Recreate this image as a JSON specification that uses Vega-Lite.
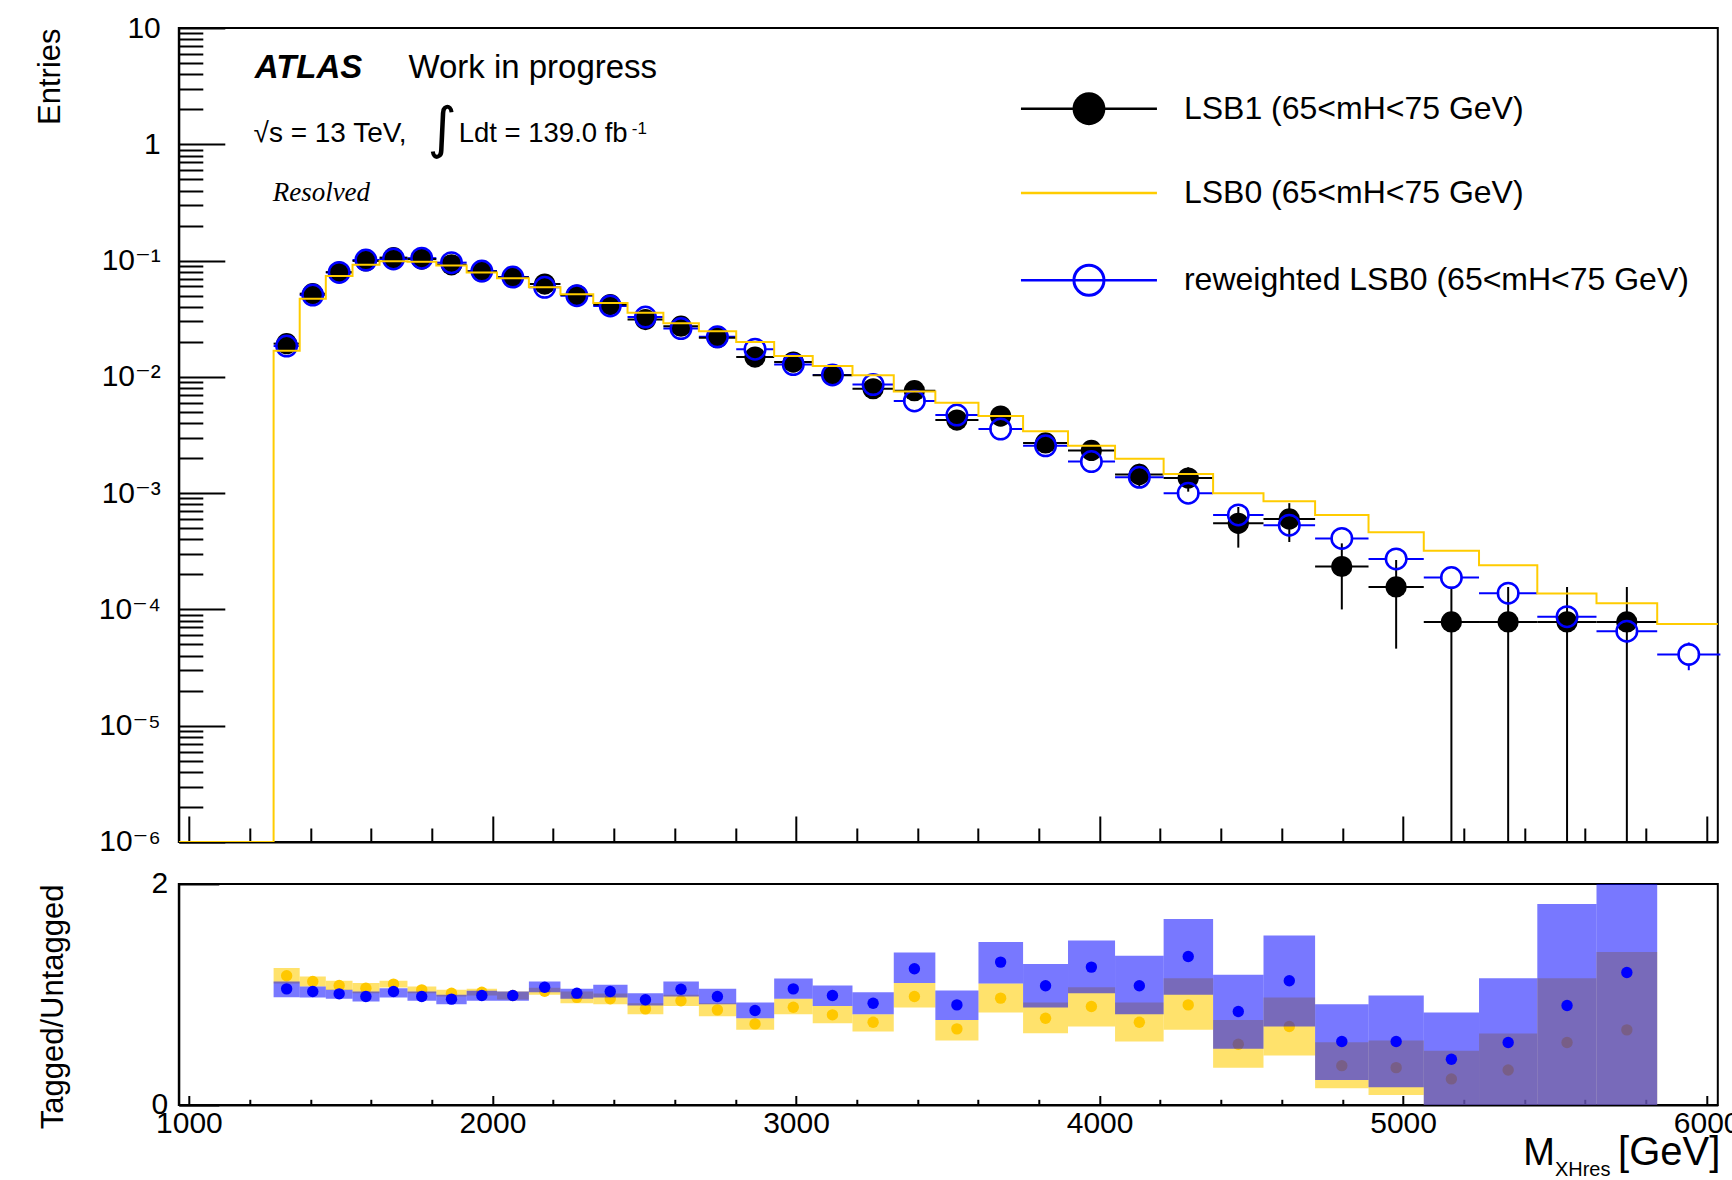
{
  "$schema": "https://vega.github.io/schema/vega-lite/v6.json",
  "background": "white",
  "padding": {"left": 33.8, "top": 12, "right": 0, "bottom": 0},
  "bounds": "flush",
  "spacing": 42,
  "config": {
    "view": {"stroke": "black", "strokeWidth": 2},
    "axis": {"grid": false, "domainColor": "black", "domainWidth": 2, "tickColor": "black", "tickWidth": 2, "labelFont": "Liberation Sans, DejaVu Sans", "labelFontSize": 30, "labelColor": "black", "titleFont": "Liberation Sans", "titleFontSize": 31, "titleColor": "black", "titleFontWeight": "normal", "labelFlush": false, "labelOverlap": false},
    "text": {"font": "Liberation Sans", "color": "black"}
  },
  "datasets": {
    "bins": [
      {"lo":1279,"hi":1365,"c":1322,"b":0.0193,"blo":0.0181,"bhi":0.0205,"w":0.0184,"wlo":0.0180,"whi":0.0188,"ry":1.169,"rylo":1.099,"ryhi":1.239,"rb":1.051,"rblo":0.976,"rbhi":1.118},
      {"lo":1365,"hi":1451,"c":1408,"b":0.0519,"blo":0.0499,"bhi":0.0539,"w":0.0505,"wlo":0.0495,"whi":0.0515,"ry":1.118,"rylo":1.073,"ryhi":1.163,"rb":1.027,"rblo":0.973,"rbhi":1.072},
      {"lo":1451,"hi":1539,"c":1495,"b":0.0795,"blo":0.0770,"bhi":0.0820,"w":0.0790,"wlo":0.0774,"whi":0.0806,"ry":1.082,"rylo":1.040,"ryhi":1.124,"rb":1.006,"rblo":0.961,"rbhi":1.042},
      {"lo":1539,"hi":1628,"c":1583,"b":0.0993,"blo":0.0965,"bhi":0.1021,"w":0.1011,"wlo":0.0991,"whi":0.1031,"ry":1.057,"rylo":1.011,"ryhi":1.103,"rb":0.982,"rblo":0.937,"rbhi":1.027},
      {"lo":1628,"hi":1720,"c":1674,"b":0.106,"blo":0.1031,"bhi":0.1089,"w":0.1032,"wlo":0.1011,"whi":0.1053,"ry":1.094,"rylo":1.064,"ryhi":1.124,"rb":1.027,"rblo":0.973,"rbhi":1.057},
      {"lo":1720,"hi":1815,"c":1767,"b":0.103,"blo":0.1002,"bhi":0.1058,"w":0.1049,"wlo":0.1028,"whi":0.1070,"ry":1.042,"rylo":1.011,"ryhi":1.073,"rb":0.982,"rblo":0.943,"rbhi":1.027},
      {"lo":1815,"hi":1915,"c":1865,"b":0.092,"blo":0.0893,"bhi":0.0947,"w":0.0960,"wlo":0.0941,"whi":0.0979,"ry":1.012,"rylo":0.982,"ryhi":1.042,"rb":0.958,"rblo":0.912,"rbhi":0.997},
      {"lo":1915,"hi":2015,"c":1965,"b":0.0805,"blo":0.0780,"bhi":0.0830,"w":0.0812,"wlo":0.0796,"whi":0.0828,"ry":1.021,"rylo":0.991,"ryhi":1.051,"rb":0.991,"rblo":0.943,"rbhi":1.033},
      {"lo":2015,"hi":2120,"c":2067,"b":0.0716,"blo":0.0692,"bhi":0.0740,"w":0.0722,"wlo":0.0708,"whi":0.0736,"ry":0.991,"rylo":0.955,"ryhi":1.027,"rb":0.991,"rblo":0.943,"rbhi":1.027},
      {"lo":2120,"hi":2224,"c":2172,"b":0.0628,"blo":0.0606,"bhi":0.0650,"w":0.0589,"wlo":0.0577,"whi":0.0601,"ry":1.030,"rylo":0.997,"ryhi":1.062,"rb":1.066,"rblo":1.021,"rbhi":1.118},
      {"lo":2224,"hi":2332,"c":2278,"b":0.0505,"blo":0.0485,"bhi":0.0525,"w":0.0499,"wlo":0.0484,"whi":0.0514,"ry":0.974,"rylo":0.921,"ryhi":1.027,"rb":1.012,"rblo":0.961,"rbhi":1.051},
      {"lo":2332,"hi":2445,"c":2388,"b":0.0418,"blo":0.0400,"bhi":0.0436,"w":0.0407,"wlo":0.0395,"whi":0.0419,"ry":0.961,"rylo":0.912,"ryhi":1.010,"rb":1.027,"rblo":0.973,"rbhi":1.088},
      {"lo":2445,"hi":2563,"c":2504,"b":0.0311,"blo":0.0295,"bhi":0.0327,"w":0.0327,"wlo":0.0317,"whi":0.0337,"ry":0.870,"rylo":0.822,"ryhi":0.921,"rb":0.952,"rblo":0.900,"rbhi":1.012},
      {"lo":2563,"hi":2680,"c":2621,"b":0.0273,"blo":0.0258,"bhi":0.0288,"w":0.0260,"wlo":0.0252,"whi":0.0268,"ry":0.943,"rylo":0.897,"ryhi":0.997,"rb":1.048,"rblo":0.982,"rbhi":1.118},
      {"lo":2680,"hi":2803,"c":2741,"b":0.0217,"blo":0.0204,"bhi":0.0230,"w":0.0221,"wlo":0.0212,"whi":0.0230,"ry":0.861,"rylo":0.804,"ryhi":0.921,"rb":0.982,"rblo":0.912,"rbhi":1.051},
      {"lo":2803,"hi":2928,"c":2865,"b":0.0148,"blo":0.0137,"bhi":0.0159,"w":0.0173,"wlo":0.0166,"whi":0.0180,"ry":0.734,"rylo":0.680,"ryhi":0.785,"rb":0.855,"rblo":0.785,"rbhi":0.927},
      {"lo":2928,"hi":3055,"c":2991,"b":0.0134,"blo":0.0124,"bhi":0.0144,"w":0.01275,"wlo":0.0122,"whi":0.0133,"ry":0.885,"rylo":0.822,"ryhi":0.961,"rb":1.051,"rblo":0.961,"rbhi":1.145},
      {"lo":3055,"hi":3186,"c":3120,"b":0.0103,"blo":0.0094,"bhi":0.0112,"w":0.0104,"wlo":0.0099,"whi":0.0109,"ry":0.816,"rylo":0.740,"ryhi":0.897,"rb":0.991,"rblo":0.897,"rbhi":1.082},
      {"lo":3186,"hi":3322,"c":3254,"b":0.0079,"blo":0.00712,"bhi":0.00868,"w":0.00858,"wlo":0.0081,"whi":0.0091,"ry":0.749,"rylo":0.665,"ryhi":0.822,"rb":0.921,"rblo":0.822,"rbhi":1.021},
      {"lo":3322,"hi":3459,"c":3390,"b":0.0076,"blo":0.00684,"bhi":0.00836,"w":0.00621,"wlo":0.0058,"whi":0.0066,"ry":0.982,"rylo":0.882,"ryhi":1.103,"rb":1.233,"rblo":1.103,"rbhi":1.381},
      {"lo":3459,"hi":3601,"c":3530,"b":0.00425,"blo":0.00368,"bhi":0.00482,"w":0.00469,"wlo":0.0044,"whi":0.0050,"ry":0.689,"rylo":0.583,"ryhi":0.770,"rb":0.906,"rblo":0.770,"rbhi":1.036},
      {"lo":3601,"hi":3748,"c":3674,"b":0.0046,"blo":0.0040,"bhi":0.0052,"w":0.00356,"wlo":0.0033,"whi":0.0038,"ry":0.967,"rylo":0.837,"ryhi":1.100,"rb":1.293,"rblo":1.100,"rbhi":1.474},
      {"lo":3748,"hi":3896,"c":3822,"b":0.0027,"blo":0.00224,"bhi":0.00316,"w":0.00255,"wlo":0.00234,"whi":0.00276,"ry":0.785,"rylo":0.650,"ryhi":0.927,"rb":1.079,"rblo":0.882,"rbhi":1.275},
      {"lo":3896,"hi":4051,"c":3973,"b":0.00233,"blo":0.0019,"bhi":0.00276,"w":0.00187,"wlo":0.0017,"whi":0.00204,"ry":0.891,"rylo":0.710,"ryhi":1.066,"rb":1.248,"rblo":1.012,"rbhi":1.489},
      {"lo":4051,"hi":4211,"c":4131,"b":0.00145,"blo":0.00111,"bhi":0.00179,"w":0.00137,"wlo":0.00124,"whi":0.0015,"ry":0.749,"rylo":0.574,"ryhi":0.927,"rb":1.079,"rblo":0.822,"rbhi":1.350},
      {"lo":4211,"hi":4374,"c":4292,"b":0.00135,"blo":0.00103,"bhi":0.00167,"w":0.0010,"wlo":0.0009,"whi":0.0011,"ry":0.906,"rylo":0.680,"ryhi":1.148,"rb":1.344,"rblo":0.997,"rbhi":1.683},
      {"lo":4374,"hi":4540,"c":4457,"b":0.00055,"blo":0.00034,"bhi":0.00076,"w":0.00065,"wlo":0.00057,"whi":0.00073,"ry":0.550,"rylo":0.338,"ryhi":0.770,"rb":0.846,"rblo":0.508,"rbhi":1.178},
      {"lo":4540,"hi":4710,"c":4625,"b":0.0006,"blo":0.00038,"bhi":0.00082,"w":0.00053,"wlo":0.00046,"whi":0.0006,"ry":0.710,"rylo":0.447,"ryhi":0.973,"rb":1.124,"rblo":0.710,"rbhi":1.535},
      {"lo":4710,"hi":4886,"c":4798,"b":0.000234,"blo":0.0001,"bhi":0.00037,"w":0.000408,"wlo":0.00035,"whi":0.000466,"ry":0.356,"rylo":0.151,"ryhi":0.568,"rb":0.574,"rblo":0.227,"rbhi":0.912},
      {"lo":4886,"hi":5068,"c":4977,"b":0.000156,"blo":0.000046,"bhi":0.000266,"w":0.000272,"wlo":0.00023,"whi":0.000314,"ry":0.338,"rylo":0.091,"ryhi":0.583,"rb":0.574,"rblo":0.160,"rbhi":0.991},
      {"lo":5068,"hi":5250,"c":5159,"b":0.000078,"blo":0.000001,"bhi":0.000156,"w":0.000188,"wlo":0.000155,"whi":0.000221,"ry":0.236,"rylo":0,"ryhi":0.49,"rb":0.414,"rblo":0,"rbhi":0.837},
      {"lo":5250,"hi":5442,"c":5346,"b":0.000078,"blo":0.000001,"bhi":0.000156,"w":0.000138,"wlo":0.000113,"whi":0.000163,"ry":0.317,"rylo":0,"ryhi":0.647,"rb":0.565,"rblo":0,"rbhi":1.148},
      {"lo":5442,"hi":5637,"c":5540,"b":0.000078,"blo":0.000001,"bhi":0.000156,"w":0.0000867,"wlo":0.000069,"whi":0.000104,"ry":0.565,"rylo":0,"ryhi":1.148,"rb":0.900,"rblo":0,"rbhi":1.819},
      {"lo":5637,"hi":5837,"c":5737,"b":0.000078,"blo":0.000001,"bhi":0.000156,"w":0.000065,"wlo":0.000051,"whi":0.000079,"ry":0.680,"rylo":0,"ryhi":1.384,"rb":1.199,"rblo":0,"rbhi":2.4},
      {"lo":5837,"hi":6045,"c":5941,"w":0.000041,"wlo":0.00003,"whi":0.000052}
    ],
    "hist": [
      {"x":966.7,"y":0.000001},{"x":1279,"y":0.0168},{"x":1365,"y":0.047},{"x":1451,"y":0.0738},{"x":1539,"y":0.092},{"x":1628,"y":0.0985},{"x":1720,"y":0.0975},{"x":1815,"y":0.0905},{"x":1915,"y":0.0789},{"x":2015,"y":0.0705},{"x":2120,"y":0.059},{"x":2224,"y":0.0513},{"x":2332,"y":0.0432},{"x":2445,"y":0.0355},{"x":2563,"y":0.0289},{"x":2680,"y":0.0247},{"x":2803,"y":0.0199},{"x":2928,"y":0.0151},{"x":3055,"y":0.0124},{"x":3186,"y":0.0103},{"x":3322,"y":0.0075},{"x":3459,"y":0.0060},{"x":3601,"y":0.0046},{"x":3748,"y":0.0034},{"x":3896,"y":0.00255},{"x":4051,"y":0.00198},{"x":4211,"y":0.00146},{"x":4374,"y":0.00100},{"x":4540,"y":0.00085},{"x":4710,"y":0.00065},{"x":4886,"y":0.00046},{"x":5068,"y":0.00032},{"x":5250,"y":0.00024},{"x":5442,"y":0.000137},{"x":5637,"y":0.000113},{"x":5837,"y":0.000075},{"x":6045,"y":0.000075}
    ],
    "legend": [
      {"label": "LSB1 (65<mH<75 GeV)", "ly": 2.021},
      {"label": "LSB0 (65<mH<75 GeV)", "ly": 0.3812},
      {"label": "reweighted LSB0 (65<mH<75 GeV)", "ly": 0.06775}
    ]
  },
  "vconcat": [
    {
      "width": 1539,
      "height": 814,
      "layer": [
        {
          "data": {"name": "bins"},
          "mark": {"type": "rule", "color": "#0000ff", "strokeWidth": 2},
          "encoding": {
            "x": {"field": "lo", "type": "quantitative", "scale": {"domain": [966.7, 6036.6], "nice": false, "zero": false},
              "axis": {"title": null, "labels": false, "values": [1000,1200,1400,1600,1800,2000,2200,2400,2600,2800,3000,3200,3400,3600,3800,4000,4200,4400,4600,4800,5000,5200,5400,5600,5800,6000],
                "tickSize": {"condition": {"test": "datum.value % 1000 === 0", "value": -26}, "value": -14}}},
            "x2": {"field": "hi"},
            "y": {"field": "w", "type": "quantitative", "scale": {"type": "log", "domain": [0.000001, 10], "nice": false},
              "axis": {"title": "Entries", "values": [0.000001,0.000002,0.000003,0.000004,0.000005,0.000006,0.000007,0.000008,0.000009,0.00001,0.00002,0.00003,0.00004,0.00005,0.00006,0.00007,0.00008,0.00009,0.0001,0.0002,0.0003,0.0004,0.0005,0.0006,0.0007,0.0008,0.0009,0.001,0.002,0.003,0.004,0.005,0.006,0.007,0.008,0.009,0.01,0.02,0.03,0.04,0.05,0.06,0.07,0.08,0.09,0.1,0.2,0.3,0.4,0.5,0.6,0.7,0.8,0.9,1,2,3,4,5,6,7,8,9,10],
                "tickSize": {"condition": {"test": "abs(log(datum.value)/LN10 - round(log(datum.value)/LN10)) < 0.001", "value": -46}, "value": -24},
                "labelExpr": "abs(log(datum.value)/LN10 - round(log(datum.value)/LN10)) > 0.001 ? '' : round(log(datum.value)/LN10) === 1 ? '10' : round(log(datum.value)/LN10) === 0 ? '1' : '10' + ['', '⁻¹', '⁻²', '⁻³', '⁻⁴', '⁻⁵', '⁻⁶'][-round(log(datum.value)/LN10)]",
                "labelPadding": 64.5,
                "titleX": -119, "titleY": 0, "titleAngle": -90, "titleAlign": "right", "titleBaseline": "alphabetic"}}
          }
        },
        {
          "data": {"name": "bins"},
          "mark": {"type": "rule", "color": "#0000ff", "strokeWidth": 2},
          "encoding": {
            "x": {"field": "c", "type": "quantitative", "scale": {"domain": [966.7, 6036.6], "nice": false, "zero": false}},
            "y": {"field": "wlo", "type": "quantitative", "scale": {"type": "log", "domain": [0.000001, 10], "nice": false}},
            "y2": {"field": "whi"}
          }
        },
        {
          "data": {"name": "bins"},
          "mark": {"type": "point", "shape": "circle", "filled": true, "color": "white", "size": 330, "opacity": 1},
          "encoding": {
            "x": {"field": "c", "type": "quantitative", "scale": {"domain": [966.7, 6036.6], "nice": false, "zero": false}},
            "y": {"field": "w", "type": "quantitative", "scale": {"type": "log", "domain": [0.000001, 10], "nice": false}}
          }
        },
        {
          "data": {"name": "bins"},
          "mark": {"type": "rule", "color": "black", "strokeWidth": 2},
          "encoding": {
            "x": {"field": "lo", "type": "quantitative", "scale": {"domain": [966.7, 6036.6], "nice": false, "zero": false}},
            "x2": {"field": "hi"},
            "y": {"field": "b", "type": "quantitative", "scale": {"type": "log", "domain": [0.000001, 10], "nice": false}}
          }
        },
        {
          "data": {"name": "bins"},
          "mark": {"type": "rule", "color": "black", "strokeWidth": 2},
          "encoding": {
            "x": {"field": "c", "type": "quantitative", "scale": {"domain": [966.7, 6036.6], "nice": false, "zero": false}},
            "y": {"field": "blo", "type": "quantitative", "scale": {"type": "log", "domain": [0.000001, 10], "nice": false}},
            "y2": {"field": "bhi"}
          }
        },
        {
          "data": {"name": "bins"},
          "mark": {"type": "point", "shape": "circle", "filled": true, "color": "black", "size": 450, "opacity": 1},
          "encoding": {
            "x": {"field": "c", "type": "quantitative", "scale": {"domain": [966.7, 6036.6], "nice": false, "zero": false}},
            "y": {"field": "b", "type": "quantitative", "scale": {"type": "log", "domain": [0.000001, 10], "nice": false}}
          }
        },
        {
          "data": {"name": "bins"},
          "mark": {"type": "point", "shape": "circle", "filled": false, "color": "#0000ff", "size": 420, "strokeWidth": 2.5, "opacity": 1},
          "encoding": {
            "x": {"field": "c", "type": "quantitative", "scale": {"domain": [966.7, 6036.6], "nice": false, "zero": false}},
            "y": {"field": "w", "type": "quantitative", "scale": {"type": "log", "domain": [0.000001, 10], "nice": false}}
          }
        },
        {
          "data": {"name": "hist"},
          "mark": {"type": "line", "interpolate": "step-after", "color": "#ffcc00", "strokeWidth": 2, "clip": true},
          "encoding": {
            "x": {"field": "x", "type": "quantitative", "scale": {"domain": [966.7, 6036.6], "nice": false, "zero": false}},
            "y": {"field": "y", "type": "quantitative", "scale": {"type": "log", "domain": [0.000001, 10], "nice": false}}
          }
        },
        {
          "data": {"name": "legend"},
          "mark": {"type": "rule", "strokeWidth": 2.5},
          "encoding": {
            "x": {"datum": 3741, "type": "quantitative", "scale": {"domain": [966.7, 6036.6], "nice": false, "zero": false}},
            "x2": {"datum": 4189},
            "y": {"field": "ly", "type": "quantitative", "scale": {"type": "log", "domain": [0.000001, 10], "nice": false}},
            "stroke": {"field": "label", "type": "nominal", "scale": {"domain": ["LSB1 (65<mH<75 GeV)", "LSB0 (65<mH<75 GeV)", "reweighted LSB0 (65<mH<75 GeV)"], "range": ["black", "#ffcc00", "#0000ff"]}, "legend": null}
          }
        },
        {
          "data": {"name": "legend"},
          "transform": [{"filter": "datum.label === 'LSB1 (65<mH<75 GeV)'"}],
          "mark": {"type": "point", "shape": "circle", "filled": true, "color": "black", "size": 1075, "opacity": 1},
          "encoding": {
            "x": {"datum": 3965, "type": "quantitative", "scale": {"domain": [966.7, 6036.6], "nice": false, "zero": false}},
            "y": {"field": "ly", "type": "quantitative", "scale": {"type": "log", "domain": [0.000001, 10], "nice": false}}
          }
        },
        {
          "data": {"name": "legend"},
          "transform": [{"filter": "datum.label === 'reweighted LSB0 (65<mH<75 GeV)'"}],
          "mark": {"type": "point", "shape": "circle", "filled": false, "color": "#0000ff", "size": 900, "strokeWidth": 3, "opacity": 1},
          "encoding": {
            "x": {"datum": 3965, "type": "quantitative", "scale": {"domain": [966.7, 6036.6], "nice": false, "zero": false}},
            "y": {"field": "ly", "type": "quantitative", "scale": {"type": "log", "domain": [0.000001, 10], "nice": false}}
          }
        },
        {
          "data": {"name": "legend"},
          "mark": {"type": "text", "align": "left", "baseline": "middle", "font": "Liberation Sans", "fontSize": 32},
          "encoding": {
            "x": {"datum": 4278, "type": "quantitative", "scale": {"domain": [966.7, 6036.6], "nice": false, "zero": false}},
            "y": {"field": "ly", "type": "quantitative", "scale": {"type": "log", "domain": [0.000001, 10], "nice": false}},
            "text": {"field": "label"}
          }
        },
        {
          "data": {"values": [{"t": "ATLAS", "gx": 1217, "gy": 3.727}]},
          "mark": {"type": "text", "align": "left", "baseline": "alphabetic", "font": "Liberation Sans", "fontSize": 33, "fontWeight": "bold", "fontStyle": "italic"},
          "encoding": {
            "x": {"field": "gx", "type": "quantitative", "scale": {"domain": [966.7, 6036.6], "nice": false, "zero": false}},
            "y": {"field": "gy", "type": "quantitative", "scale": {"type": "log", "domain": [0.000001, 10], "nice": false}},
            "text": {"field": "t"}
          }
        },
        {
          "data": {"values": [{"t": "Work in progress", "gx": 1723, "gy": 3.727}]},
          "mark": {"type": "text", "align": "left", "baseline": "alphabetic", "font": "Liberation Sans", "fontSize": 33},
          "encoding": {
            "x": {"field": "gx", "type": "quantitative", "scale": {"domain": [966.7, 6036.6], "nice": false, "zero": false}},
            "y": {"field": "gy", "type": "quantitative", "scale": {"type": "log", "domain": [0.000001, 10], "nice": false}},
            "text": {"field": "t"}
          }
        },
        {
          "data": {"values": [{"t": "√s = 13 TeV,", "gx": 1213, "gy": 1.053}]},
          "mark": {"type": "text", "align": "left", "baseline": "alphabetic", "font": "Liberation Sans", "fontSize": 28},
          "encoding": {
            "x": {"field": "gx", "type": "quantitative", "scale": {"domain": [966.7, 6036.6], "nice": false, "zero": false}},
            "y": {"field": "gy", "type": "quantitative", "scale": {"type": "log", "domain": [0.000001, 10], "nice": false}},
            "text": {"field": "t"}
          }
        },
        {
          "data": {"values": [{"t": "Ldt = 139.0 fb", "gx": 1889, "gy": 1.053}]},
          "mark": {"type": "text", "align": "left", "baseline": "alphabetic", "font": "Liberation Sans", "fontSize": 27.5},
          "encoding": {
            "x": {"field": "gx", "type": "quantitative", "scale": {"domain": [966.7, 6036.6], "nice": false, "zero": false}},
            "y": {"field": "gy", "type": "quantitative", "scale": {"type": "log", "domain": [0.000001, 10], "nice": false}},
            "text": {"field": "t"}
          }
        },
        {
          "data": {"values": [{"t": "∫", "gx": 1834, "gy": 1.335}]},
          "mark": {"type": "text", "align": "center", "baseline": "middle", "font": "DejaVu Sans", "fontSize": 56},
          "encoding": {
            "x": {"field": "gx", "type": "quantitative", "scale": {"domain": [966.7, 6036.6], "nice": false, "zero": false}},
            "y": {"field": "gy", "type": "quantitative", "scale": {"type": "log", "domain": [0.000001, 10], "nice": false}},
            "text": {"field": "t"}
          }
        },
        {
          "data": {"values": [{"t": "-1", "gx": 2459, "gy": 1.234}]},
          "mark": {"type": "text", "align": "left", "baseline": "alphabetic", "font": "Liberation Sans", "fontSize": 17},
          "encoding": {
            "x": {"field": "gx", "type": "quantitative", "scale": {"domain": [966.7, 6036.6], "nice": false, "zero": false}},
            "y": {"field": "gy", "type": "quantitative", "scale": {"type": "log", "domain": [0.000001, 10], "nice": false}},
            "text": {"field": "t"}
          }
        },
        {
          "data": {"values": [{"t": "Resolved", "gx": 1276, "gy": 0.3222}]},
          "mark": {"type": "text", "align": "left", "baseline": "alphabetic", "font": "Liberation Serif", "fontSize": 27, "fontStyle": "italic"},
          "encoding": {
            "x": {"field": "gx", "type": "quantitative", "scale": {"domain": [966.7, 6036.6], "nice": false, "zero": false}},
            "y": {"field": "gy", "type": "quantitative", "scale": {"type": "log", "domain": [0.000001, 10], "nice": false}},
            "text": {"field": "t"}
          }
        }
      ]
    },
    {
      "width": 1539,
      "height": 221,
      "layer": [
        {
          "data": {"name": "bins"},
          "mark": {"type": "rect", "fill": "#ffd52e", "opacity": 0.7, "clip": true},
          "encoding": {
            "x": {"field": "lo", "type": "quantitative", "scale": {"domain": [966.7, 6036.6], "nice": false, "zero": false},
              "axis": {"title": null, "values": [1000,1200,1400,1600,1800,2000,2200,2400,2600,2800,3000,3200,3400,3600,3800,4000,4200,4400,4600,4800,5000,5200,5400,5600,5800,6000],
                "format": "d", "labelExpr": "datum.value % 1000 === 0 ? datum.label : ''",
                "tickSize": {"condition": {"test": "datum.value % 1000 === 0", "value": -9.5}, "value": -5.7},
                "labelPadding": 13}},
            "x2": {"field": "hi"},
            "y": {"field": "rylo", "type": "quantitative", "scale": {"domain": [0, 2], "nice": false, "zero": false},
              "axis": {"title": "Tagged/Untagged", "values": [0, 1, 2], "format": "d", "tickSize": -40, "labelPadding": 51,
                "titleX": -116.1, "titleY": 0, "titleAngle": -90, "titleAlign": "right", "titleBaseline": "alphabetic"}},
            "y2": {"field": "ryhi"}
          }
        },
        {
          "data": {"name": "bins"},
          "mark": {"type": "point", "shape": "circle", "filled": true, "color": "#ffc800", "size": 130, "opacity": 1},
          "encoding": {
            "x": {"field": "c", "type": "quantitative", "scale": {"domain": [966.7, 6036.6], "nice": false, "zero": false}},
            "y": {"field": "ry", "type": "quantitative", "scale": {"domain": [0, 2], "nice": false, "zero": false}}
          }
        },
        {
          "data": {"name": "bins"},
          "mark": {"type": "rect", "fill": "#0000ff", "opacity": 0.53, "clip": true},
          "encoding": {
            "x": {"field": "lo", "type": "quantitative", "scale": {"domain": [966.7, 6036.6], "nice": false, "zero": false}},
            "x2": {"field": "hi"},
            "y": {"field": "rblo", "type": "quantitative", "scale": {"domain": [0, 2], "nice": false, "zero": false}},
            "y2": {"field": "rbhi"}
          }
        },
        {
          "data": {"name": "bins"},
          "mark": {"type": "point", "shape": "circle", "filled": true, "color": "#0000ff", "size": 130, "opacity": 1},
          "encoding": {
            "x": {"field": "c", "type": "quantitative", "scale": {"domain": [966.7, 6036.6], "nice": false, "zero": false}},
            "y": {"field": "rb", "type": "quantitative", "scale": {"domain": [0, 2], "nice": false, "zero": false}}
          }
        },
        {
          "mark": {"type": "rule", "color": "black", "strokeWidth": 2, "strokeDash": [3, 5]},
          "encoding": {
            "y": {"datum": 1, "type": "quantitative", "scale": {"domain": [0, 2], "nice": false, "zero": false}}
          }
        },
        {
          "data": {"values": [{"t": "M", "gx": 5396, "gy": -0.544}]},
          "mark": {"type": "text", "align": "left", "baseline": "alphabetic", "font": "Liberation Sans", "fontSize": 38},
          "encoding": {
            "x": {"field": "gx", "type": "quantitative", "scale": {"domain": [966.7, 6036.6], "nice": false, "zero": false}},
            "y": {"field": "gy", "type": "quantitative", "scale": {"domain": [0, 2], "nice": false, "zero": false}},
            "text": {"field": "t"}
          }
        },
        {
          "data": {"values": [{"t": "XHres", "gx": 5500, "gy": -0.64}]},
          "mark": {"type": "text", "align": "left", "baseline": "alphabetic", "font": "Liberation Sans", "fontSize": 20},
          "encoding": {
            "x": {"field": "gx", "type": "quantitative", "scale": {"domain": [966.7, 6036.6], "nice": false, "zero": false}},
            "y": {"field": "gy", "type": "quantitative", "scale": {"domain": [0, 2], "nice": false, "zero": false}},
            "text": {"field": "t"}
          }
        },
        {
          "data": {"values": [{"t": "[GeV]", "gx": 6045, "gy": -0.544}]},
          "mark": {"type": "text", "align": "right", "baseline": "alphabetic", "font": "Liberation Sans", "fontSize": 40},
          "encoding": {
            "x": {"field": "gx", "type": "quantitative", "scale": {"domain": [966.7, 6036.6], "nice": false, "zero": false}},
            "y": {"field": "gy", "type": "quantitative", "scale": {"domain": [0, 2], "nice": false, "zero": false}},
            "text": {"field": "t"}
          }
        }
      ]
    }
  ]
}
